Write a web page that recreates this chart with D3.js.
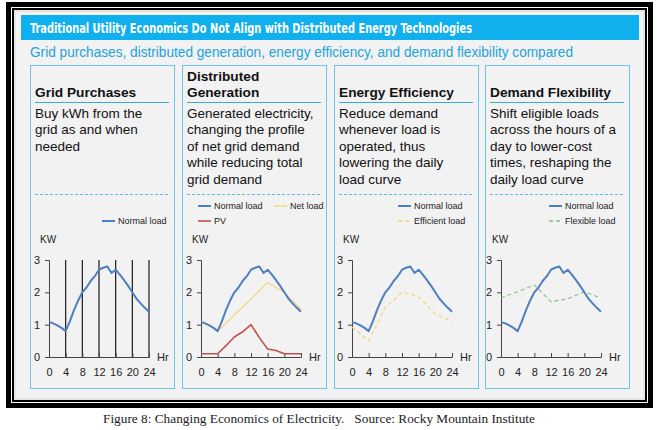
<!DOCTYPE html>
<html>
<head>
<meta charset="utf-8">
<script src="https://cdn.jsdelivr.net/npm/d3@7"></script>
<style>
  body { margin: 0; background: #fff; }
  svg { display: block; font-family: "Liberation Sans", Arial, sans-serif; }
</style>
</head>
<body>
<div id="chart"></div>
<script>
// --- data ---
const hours = [0, 4, 8, 12, 16, 20, 24];
const kwTicks = [0, 1, 2, 3];

const normalLoad = [
    [0, 1.08], [1, 1.04], [2, 0.98], [3, 0.9], [4, 0.8], [5, 1.1], [6, 1.45],
    [7, 1.75], [8, 2.0], [9, 2.15], [10, 2.35], [11, 2.5], [12, 2.7], [13, 2.76],
    [14, 2.8], [15, 2.6], [16, 2.7], [17, 2.55], [18, 2.38], [19, 2.2], [20, 2.0],
    [21, 1.8], [22, 1.66], [23, 1.52], [24, 1.4]
];
const netLoad = [[0, 1.1], [2, 0.98], [4, 0.8], [16, 2.3], [20, 2.0], [24, 1.48]];
const pv = [
    [0, 0.1], [4, 0.1], [6, 0.35], [8, 0.62], [10, 0.78], [12, 1.0], [14, 0.6],
    [16, 0.25], [18, 0.2], [20, 0.1], [24, 0.1]
];
const efficientLoad = [
    [0, 0.92], [2, 0.72], [4, 0.5], [6, 1.0], [8, 1.55], [10, 1.75], [12, 2.0],
    [14, 1.95], [16, 1.85], [18, 1.6], [20, 1.32], [22, 1.22], [24, 1.1]
];
const flexibleLoad = [[0, 1.83], [4, 2.02], [8, 2.23], [12, 1.71], [16, 1.8], [20, 2.02], [24, 1.82]];

const panelTitles = [
    ["Grid Purchases"],
    ["Distributed", "Generation"],
    ["Energy Efficiency"],
    ["Demand Flexibility"]
];
const panelTexts = [
    ["Buy kWh from the", "grid as and when", "needed"],
    ["Generated electricity,", "changing the profile", "of net grid demand", "while reducing total", "grid demand"],
    ["Reduce demand", "whenever load is", "operated, thus", "lowering the daily", "load curve"],
    ["Shift eligible loads", "across the hours of a", "day to lower-cost", "times, reshaping the", "daily load curve"]
];

const title = "Traditional Utility Economics Do Not Align with Distributed Energy Technologies";
const subtitle = "Grid purchases, distributed generation, energy efficiency, and demand flexibility compared";
const caption = "Figure 8: Changing Economics of Electricity.   Source: Rocky Mountain Institute";

// series styling per panel
const styles = {
    normal: { name: "Normal load", color: "#4f7fbf", width: 2, dash: null },
    net: { name: "Net load", color: "#f3d27a", width: 1.1, dash: null },
    pv: { name: "PV", color: "#c0504d", width: 1.6, dash: null },
    efficient: { name: "Efficient load", color: "#f2cf72", width: 1.1, dash: "4,3" },
    flexible: { name: "Flexible load", color: "#86bb86", width: 1.1, dash: "4,3" }
};

const panelSeries = [
    [{ key: "normal", data: normalLoad }],
    [{ key: "normal", data: normalLoad }, { key: "net", data: netLoad }, { key: "pv", data: pv }],
    [{ key: "normal", data: normalLoad }, { key: "efficient", data: efficientLoad }],
    [{ key: "normal", data: normalLoad }, { key: "flexible", data: flexibleLoad }]
];

// --- layout ---
const W = 659, H = 430;
const panelLefts = [30, 182, 334, 485];
const panelW = 144, panelTop = 65, panelH = 323;
const plotLefts = [49, 201, 352, 501];
const plotW = 100, plotTop = 260, plotBottom = 357;

const svg = d3.select("#chart").append("svg")
    .attr("width", W)
    .attr("height", H);

// frame
svg.append("rect").attr("x", 6).attr("y", 2).attr("width", 647).attr("height", 406).attr("fill", "#000");
svg.append("rect").attr("x", 11).attr("y", 7).attr("width", 637).attr("height", 396).attr("fill", "#fff");
svg.append("rect").attr("x", 12).attr("y", 8).attr("width", 635).attr("height", 394).attr("fill", "#000");
svg.append("rect").attr("x", 14).attr("y", 10).attr("width", 631).attr("height", 390).attr("fill", "#e4e4e4");
svg.append("rect").attr("x", 16).attr("y", 12).attr("width", 627).attr("height", 386).attr("fill", "#f2f2f2");

// title bar
svg.append("rect").attr("x", 21).attr("y", 15).attr("width", 618).attr("height", 25).attr("fill", "#10b0ee");
svg.append("text")
    .attr("x", 30).attr("y", 33)
    .attr("font-family", "'DejaVu Sans Condensed', 'Liberation Sans Narrow', sans-serif")
    .attr("font-weight", "bold")
    .attr("font-size", 14)
    .attr("fill", "#fff")
    .attr("textLength", 442)
    .attr("lengthAdjust", "spacingAndGlyphs")
    .text(title);

svg.append("text")
    .attr("x", 30).attr("y", 57)
    .attr("font-size", 14)
    .attr("fill", "#22a3dc")
    .attr("textLength", 543)
    .attr("lengthAdjust", "spacingAndGlyphs")
    .text(subtitle);

// caption
svg.append("text")
    .attr("x", 319).attr("y", 423)
    .attr("text-anchor", "middle")
    .attr("font-family", "'Liberation Serif', 'Times New Roman', serif")
    .attr("font-size", 13.3)
    .attr("fill", "#222")
    .style("white-space", "pre")
    .text(caption);

const y = d3.scaleLinear().domain([0, 3]).range([plotBottom, plotTop]);

panelLefts.forEach((px, i) => {
    const g = svg.append("g");

    g.append("rect")
        .attr("x", px + 0.5).attr("y", panelTop + 0.5)
        .attr("width", panelW).attr("height", panelH)
        .attr("fill", "none")
        .attr("stroke", "#6cc6ea");

    // header
    const titleLines = panelTitles[i];
    titleLines.forEach((t, k) => {
        g.append("text")
            .attr("x", px + 5)
            .attr("y", 97 - (titleLines.length - 1 - k) * 16)
            .attr("font-size", 13.7)
            .attr("font-weight", "bold")
            .attr("fill", "#111")
            .text(t);
    });
    g.append("line")
        .attr("x1", px + 5).attr("x2", px + panelW - 5)
        .attr("y1", 102.5).attr("y2", 102.5)
        .attr("stroke", "#3aa9de");

    panelTexts[i].forEach((t, k) => {
        g.append("text")
            .attr("x", px + 5)
            .attr("y", 118 + k * 16.4)
            .attr("font-size", 13.5)
            .attr("fill", "#111")
            .text(t);
    });

    g.append("line")
        .attr("x1", px + 5).attr("x2", px + panelW - 5)
        .attr("y1", 194.5).attr("y2", 194.5)
        .attr("stroke", "#5cbce4")
        .attr("stroke-dasharray", "3,2");

    // chart
    const x = d3.scaleLinear().domain([0, 24]).range([plotLefts[i], plotLefts[i] + plotW]);
    const chart = g.append("g").attr("font-size", 11);

    if (i === 0) {
        chart.selectAll(".grid").data(hours.slice(1)).join("line")
            .attr("x1", d => x(d)).attr("x2", d => x(d))
            .attr("y1", y(0)).attr("y2", y(3))
            .attr("stroke", "#1a1a1a")
            .attr("stroke-width", 1.2);
    }

    const xAxis = chart.append("g")
        .attr("transform", `translate(0,${y(0)})`)
        .call(d3.axisBottom(x).tickValues(hours).tickSize(-4).tickPadding(11));
    xAxis.select(".domain").attr("stroke", "#444");
    xAxis.selectAll(".tick line").attr("stroke", "#444");
    xAxis.selectAll(".tick text").attr("font-size", 11).attr("fill", "#222")
        .attr("font-family", "'Liberation Sans', Arial, sans-serif");

    const yAxis = chart.append("g")
        .attr("transform", `translate(${x(0)},0)`)
        .call(d3.axisLeft(y).tickValues(kwTicks).tickFormat(d3.format("d")).tickSize(4).tickPadding(5));
    yAxis.select(".domain").attr("stroke", "#444");
    yAxis.selectAll(".tick line").attr("stroke", "#444");
    yAxis.selectAll(".tick text").attr("font-size", 11).attr("fill", "#222")
        .attr("font-family", "'Liberation Sans', Arial, sans-serif");

    chart.append("text")
        .attr("x", x(0) - 9).attr("y", 243)
        .attr("font-size", 10).attr("fill", "#222")
        .text("KW");
    chart.append("text")
        .attr("x", x(24) + 8).attr("y", y(0) + 4)
        .attr("font-size", 11).attr("fill", "#222")
        .text("Hr");

    const line = d3.line().x(d => x(d[0])).y(d => y(d[1]));
    const series = panelSeries[i];

    // draw secondary series first, normal load on top
    series.slice().reverse().forEach(s => {
        const st = styles[s.key];
        chart.append("path")
            .datum(s.data)
            .attr("d", line)
            .attr("fill", "none")
            .attr("stroke", st.color)
            .attr("stroke-width", st.width)
            .attr("stroke-dasharray", st.dash)
            .attr("stroke-linejoin", "round");
    });

    // legend
    let items;
    if (i === 0) items = [{ key: "normal", lx: 102, ly: 221 }];
    else if (i === 1) items = [
        { key: "normal", lx: 198, ly: 206 },
        { key: "net", lx: 274, ly: 206 },
        { key: "pv", lx: 198, ly: 221 }
    ];
    else items = series.map((s, k) => ({ key: s.key, lx: px + 64, ly: 206 + k * 15 }));

    items.forEach(it => {
        const st = styles[it.key];
        g.append("line")
            .attr("x1", it.lx).attr("x2", it.lx + 13)
            .attr("y1", it.ly).attr("y2", it.ly)
            .attr("stroke", st.color)
            .attr("stroke-width", Math.max(st.width, 1.3))
            .attr("stroke-dasharray", st.dash);
        g.append("text")
            .attr("x", it.lx + 16).attr("y", it.ly + 3)
            .attr("font-size", 9)
            .attr("fill", "#222")
            .text(st.name);
    });
});
</script>
</body>
</html>
